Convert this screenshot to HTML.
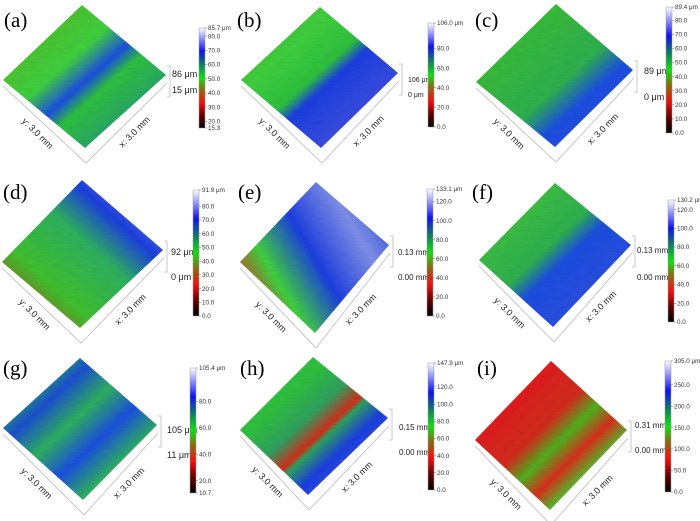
<!DOCTYPE html>
<html><head><meta charset="utf-8"><style>
html,body{margin:0;padding:0;background:#fff}
svg{display:block}
text{font-family:"Liberation Sans",sans-serif}
</style></head><body>
<svg id="fig" width="700" height="521" viewBox="0 0 700 521" xmlns="http://www.w3.org/2000/svg">
<defs>
<linearGradient id="cbar" x1="0" y1="1" x2="0" y2="0">
<stop offset="0" stop-color="#000"/><stop offset="0.12" stop-color="#600000"/><stop offset="0.25" stop-color="#f01010"/>
<stop offset="0.38" stop-color="#8a6a10"/><stop offset="0.5" stop-color="#10e010"/><stop offset="0.63" stop-color="#108060"/>
<stop offset="0.77" stop-color="#1010f0"/><stop offset="1" stop-color="#fff"/>
</linearGradient>
<filter id="grain" x="0" y="0" width="1" height="1">
<feTurbulence type="fractalNoise" baseFrequency="0.08 0.5" numOctaves="2" seed="3" result="n"/>
<feColorMatrix in="n" type="matrix" values="0 0 0 0 0  0 0 0 0 0  0 0 0 0 0  0 0 0 0.18 -0.04" result="a"/>
<feComposite in="a" in2="SourceGraphic" operator="in" result="b"/>
<feMerge><feMergeNode in="SourceGraphic"/><feMergeNode in="b"/></feMerge>
</filter>
</defs>
</svg>
<script>
// ---- data ----
const panelLabels = ["(a)","(b)","(c)","(d)","(e)","(f)","(g)","(h)","(i)"];
const cbMin = [15.3, 0, 0, 0, 0, 0, 10.7, 0, 0];
const cbMax = [85.7, 106.0, 89.4, 91.9, 133.1, 130.2, 105.4, 147.9, 305.0];
const cbTicks = [
 [80,70,60,50,40,30,20],
 [80,60,40,20],
 [80,70,60,50,40,30,20,10],
 [80,70,60,50,40,30,20,10],
 [120,100,80,60,40,20],
 [120,100,80,60,40,20],
 [80,60,40,20],
 [120,100,80,60,40,20],
 [250,200,150,100,50]
];
const heightTop = ["86 μm","106 μm","89 μm","92 μm","0.13 mm","0.13 mm","105 μm","0.15 mm","0.31 mm"];
const heightBottom = ["15 μm","0 μm","0 μm","0 μm","0.00 mm","0.00 mm","11 μm","0.00 mm","0.00 mm"];

// ---- layout (geometry, not data) ----
const layout = [
 {lab:[4,27], T:[82,5], R:[166,75], L:[3,80], B:[85,148], cb:[199,28,128], h:[172,74,90], hs:9},
 {lab:[237,27], T:[320,7], R:[398,73], L:[241,80], B:[321,148], cb:[428,23,127], h:[408,79,94], hs:7},
 {lab:[475,27], T:[556,4], R:[633,70], L:[476,82], B:[555,147], cb:[666,7,133], h:[644,71,97], hs:9},
 {lab:[3,199], T:[82,180], R:[163,250], L:[2,262], B:[80,328], cb:[193,190,316], h:[171,252,277], hs:9},
 {lab:[238,199], T:[316,182], R:[389,245], L:[240,262], B:[315,333], cb:[427,189,316], h:[398,252,277], hs:8},
 {lab:[472,199], T:[555,183], R:[631,245], L:[479,260], B:[553,327], cb:[668,200,322], h:[637,250,277], hs:8},
 {lab:[3,375], T:[80,358], R:[157,425], L:[3,428], B:[83,500], cb:[190,368,493], h:[167,430,455], hs:9},
 {lab:[240,375], T:[313,357], R:[388,418], L:[240,430], B:[308,495], cb:[428,363,490], h:[399,427,452], hs:8},
 {lab:[477,375], T:[551,361], R:[627,430], L:[475,440], B:[550,510], cb:[665,361,492], h:[635,425,450], hs:8}
];
const fills = [
 {d:[0,0,1,1], s:[[0,"#8a8a20"],[0.2,"#50c030"],[0.4,"#40d040"],[0.52,"#2050e0"],[0.6,"#30c040"],[0.8,"#2aa070"],[1,"#40c050"]]},
 {d:[0,0,1,1], s:[[0,"#a05020"],[0.12,"#50b030"],[0.3,"#40d040"],[0.48,"#30c040"],[0.55,"#2040e0"],[0.8,"#4050e0"],[1,"#7080e8"]]},
 {d:[0,0,1,1], s:[[0,"#8a5a20"],[0.1,"#40c030"],[0.55,"#30b050"],[0.68,"#2050e0"],[0.85,"#2050e0"],[0.95,"#30b050"]]},
 {d:[0,1,1,0], s:[[0,"#c03020"],[0.3,"#40c030"],[0.55,"#30b060"],[0.72,"#2040e0"],[0.88,"#7080e0"],[1,"#2040e0"]]},
 {d:[0,0.8,1,0.2], s:[[0,"#f02020"],[0.25,"#40d040"],[0.5,"#2040e0"],[0.78,"#8090e8"],[1,"#3050e0"]]},
 {d:[0,0,1,1], s:[[0,"#80802a"],[0.2,"#40c040"],[0.45,"#30b050"],[0.55,"#2050e0"],[0.8,"#3050e0"],[0.92,"#8090e8"],[1,"#30a060"]]},
 {d:[0,0,1,1], s:[[0,"#2050e0"],[0.15,"#30c040"],[0.3,"#2050d0"],[0.45,"#30b060"],[0.6,"#2050e0"],[0.75,"#30b060"],[0.9,"#2050e0"],[1,"#2040d0"]]},
 {d:[0,0,1,1], s:[[0,"#40c040"],[0.3,"#30c040"],[0.45,"#30a060"],[0.55,"#d03020"],[0.58,"#30a060"],[0.68,"#2040e0"],[1,"#6070e8"]]},
 {d:[0,0,1,1], s:[[0,"#300505"],[0.1,"#a01010"],[0.25,"#e02020"],[0.45,"#d03020"],[0.55,"#50b020"],[0.65,"#d83020"],[0.75,"#50c030"],[1,"#40d030"]]}
];

const NS="http://www.w3.org/2000/svg";
const svg=document.getElementById('fig');
const defs=svg.querySelector('defs');
function mk(tag, attrs, parent){const e=document.createElementNS(NS,tag);for(const k in attrs)e.setAttribute(k,attrs[k]);(parent||svg).appendChild(e);return e;}

panelLabels.forEach((pl,i)=>{
 const g=layout[i];
 const grp=mk('g',{});
 
 
 const f=fills[i];
 const lg=mk('linearGradient',{id:'sf'+i,x1:f.d[0],y1:f.d[1],x2:f.d[2],y2:f.d[3]},defs);
 f.s.forEach(s=>mk('stop',{offset:s[0],'stop-color':s[1]},lg));
 const fl=[g.L[0],g.L[1]+6], fb=[g.B[0]+1,g.B[1]+15], fr=[g.R[0]+1,g.R[1]+8];
 const frame=mk('polyline',{points:`${fl[0]},${fl[1]} ${fb[0]},${fb[1]} ${fr[0]},${fr[1]}`,fill:'none',stroke:'#c8c8c8','stroke-width':1},grp);
 
 
 const bx=g.R[0]+4;
 const br=mk('path',{d:`M${bx-3},${g.R[1]-9}H${bx}V${g.R[1]+22}H${bx-3}`,fill:'none',stroke:'#bbb','stroke-width':0.8},grp);
 
 
 const surf=mk('polygon',{points:`${g.T[0]},${g.T[1]} ${g.R[0]},${g.R[1]} ${g.B[0]},${g.B[1]} ${g.L[0]},${g.L[1]}`,fill:`url(#sf${i})`,filter:'url(#grain)'},grp);
 
 
 const t=mk('text',{x:g.lab[0],y:g.lab[1],'font-size':21,style:'font-family:"Liberation Serif",serif'},grp);
 t.textContent=pl;
 
 
 const my=[(fl[0]+fb[0])/2-9,(fl[1]+fb[1])/2+11];
 const yl=mk('text',{x:my[0],y:my[1],'font-size':9,'text-anchor':'middle',fill:'#222',transform:`rotate(45 ${my[0]} ${my[1]})`},grp);
 yl.textContent='y: 3.0 mm';
 
 
 const mx=[(fb[0]+fr[0])/2+10,(fb[1]+fr[1])/2+11];
 const xl=mk('text',{x:mx[0],y:mx[1],'font-size':9,'text-anchor':'middle',fill:'#222',transform:`rotate(-45 ${mx[0]} ${mx[1]})`},grp);
 xl.textContent='x: 3.0 mm';
 
 
 const h1=mk('text',{x:g.h[0],y:g.h[1]+3,'font-size':g.hs,fill:'#222'},grp);
 h1.textContent=heightTop[i];
 
 
 const h2=mk('text',{x:g.h[0],y:g.h[2]+3,'font-size':g.hs,fill:'#222'},grp);
 h2.textContent=heightBottom[i];
 
 
 const [cx,cy0,cy1]=g.cb;
 const cb=mk('rect',{x:cx,y:cy0,width:6,height:cy1-cy0,fill:'url(#cbar)',stroke:'#999','stroke-width':0.5},grp);
 
 
 const yv=v=>cy1-(v-cbMin[i])/(cbMax[i]-cbMin[i])*(cy1-cy0);
 const all=[[cbMax[i],cbMax[i].toFixed(1)+' μm'],...cbTicks[i].map(v=>[v,v.toFixed(1)]),[cbMin[i],cbMin[i].toFixed(1)]];
 all.forEach(([v,s])=>{
  const y=yv(v);
  mk('line',{x1:cx+6,x2:cx+8,y1:y,y2:y,stroke:'#666','stroke-width':0.5},grp);
  const tt=mk('text',{x:cx+9,y:y+2.2,'font-size':6.3,fill:'#333'},grp);
  tt.textContent=s;
  
  
 });
});
</script>
</body></html>
